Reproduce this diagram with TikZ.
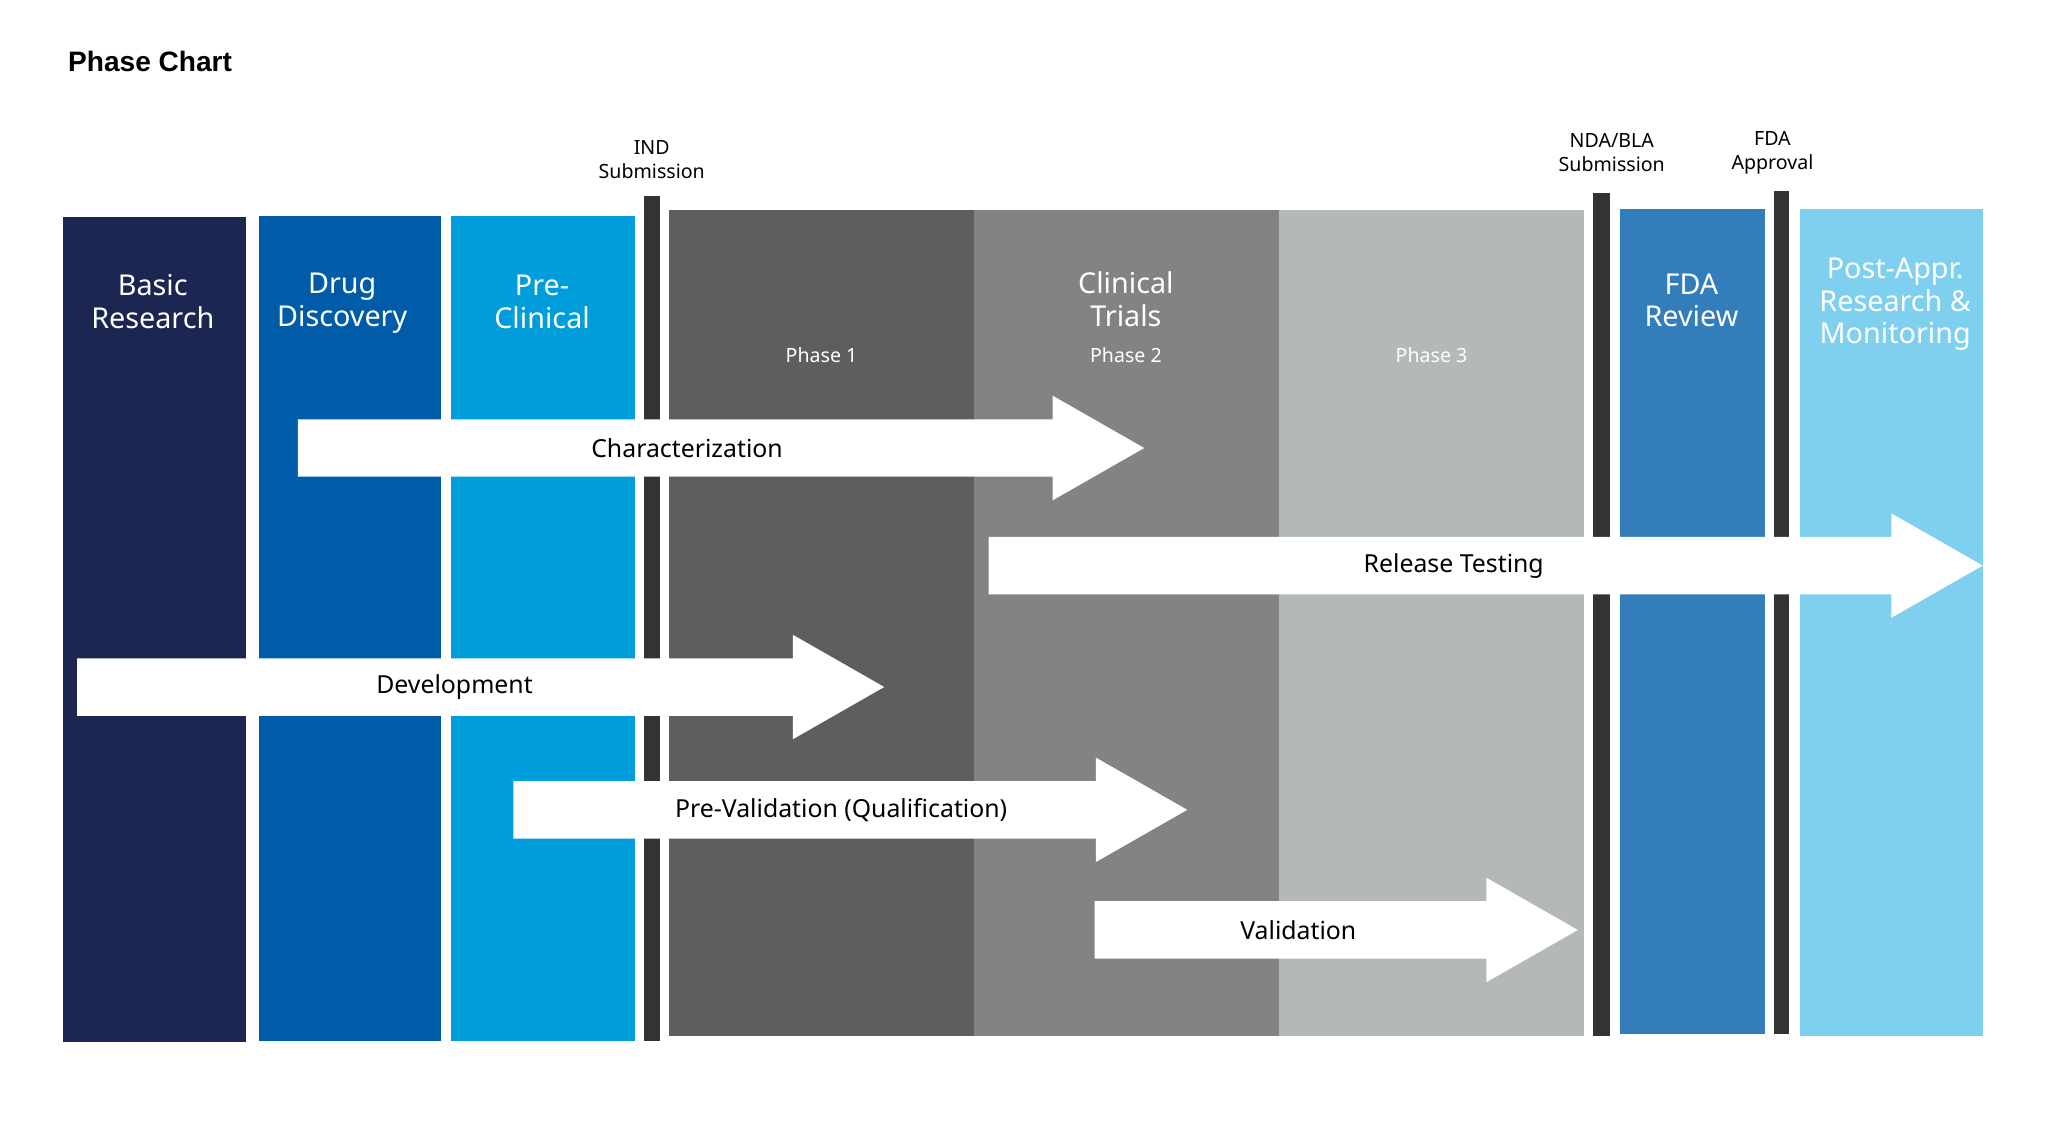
\documentclass[tikz,border=0pt]{standalone}
\usepackage{fontspec}
\setmainfont{Noto Sans}
\newfontfamily\titlefont{Liberation Sans}
\usetikzlibrary{positioning}

\definecolor{navy}{HTML}{1B2651}
\definecolor{drugblue}{HTML}{005BA8}
\definecolor{cyanblue}{HTML}{009DDC}
\definecolor{milestone}{HTML}{333333}
\definecolor{phaseone}{HTML}{5E5E5E}
\definecolor{phasetwo}{HTML}{828384}
\definecolor{phasethree}{HTML}{B4B8B9}
\definecolor{reviewblue}{HTML}{347DBB}
\definecolor{skyblue}{HTML}{7FCFEE}

% white block arrow: name, x start, x head base, y middle, x of label, label
\newcommand{\flowarrow}[6]{%
  \fill[white] (#2,{#4-22}) -- (#3,{#4-22}) -- (#3,{#4-40}) -- ({#3+70},#4)
    -- (#3,{#4+40}) -- (#3,{#4+22}) -- (#2,{#4+22}) -- cycle;
  \node[flowlabel] (#1) at (#5,#4) {#6};
}

\begin{document}
\begin{tikzpicture}[x=1pt,y=-1pt,
    stagelabel/.style={text=white, align=center, inner sep=0pt,
      font=\fontsize{22}{25}\selectfont},
    phaselabel/.style={text=white, inner sep=0pt, font=\fontsize{15}{18}\selectfont},
    toplabel/.style={align=center, inner sep=0pt, font=\fontsize{15}{18}\selectfont},
    flowlabel/.style={inner sep=0pt, font=\fontsize{19}{22}\selectfont}]
    \useasboundingbox[fill=white] (0,0) rectangle (1568,859);

    \node[anchor=west, inner sep=0pt, font=\titlefont\fontsize{21.5}{25}\selectfont\bfseries]
      (title) at (52,47) {Phase Chart};

    % stages
    \fill[navy] (48,166) rectangle (188,798);
    \fill[drugblue] (198,165) rectangle (338,797);
    \fill[cyanblue] (345,165) rectangle (486,797);
    \fill[phaseone] (512,161) rectangle (746,793);
    \fill[phasetwo] (746,161) rectangle (979,793);
    \fill[phasethree] (979,161) rectangle (1213,793);
    \fill[reviewblue] (1240,160) rectangle (1351,792);
    \fill[skyblue] (1378,160) rectangle (1518,793);

    % milestones
    \fill[milestone] (493,150) rectangle (505,797);
    \fill[milestone] (1220,148) rectangle (1233,793);
    \fill[milestone] (1358,146) rectangle (1370,792);

    \node[toplabel] (ind) at (499,122) {IND\\Submission};
    \node[toplabel] (nda) at (1234,117) {NDA/BLA\\Submission};
    \node[toplabel] (approval) at (1357,117) {FDA\\Approval};

    \node[stagelabel] (basic) at (117,231) {Basic\\Research};
    \node[stagelabel] (drug) at (262,232) {Drug\\Discovery};
    \node[stagelabel] (preclinical) at (415,231) {Pre-\\Clinical};
    \node[stagelabel] (clinical) at (862,229) {Clinical\\Trials};
    \node[stagelabel] (review) at (1295,230) {FDA\\Review};
    \node[stagelabel] (post) at (1451,233) {Post-Appr.\\Research \&\\Monitoring};

    \node[phaselabel] (phase1) at (629,272) {Phase 1};
    \node[phaselabel] (phase2) at (862,272) {Phase 2};
    \node[phaselabel] (phase3) at (1096,272) {Phase 3};

    % activities
    \flowarrow{charact}{228}{806}{343}{526}{Characterization}
    \flowarrow{release}{757}{1448}{433}{1113}{Release Testing}
    \flowarrow{develop}{59}{607}{526}{348}{Development}
    \flowarrow{prevalid}{393}{839}{620}{644}{Pre-Validation (Qualification)}
    \flowarrow{valid}{838}{1138}{712}{994}{Validation}
\end{tikzpicture}
\end{document}
